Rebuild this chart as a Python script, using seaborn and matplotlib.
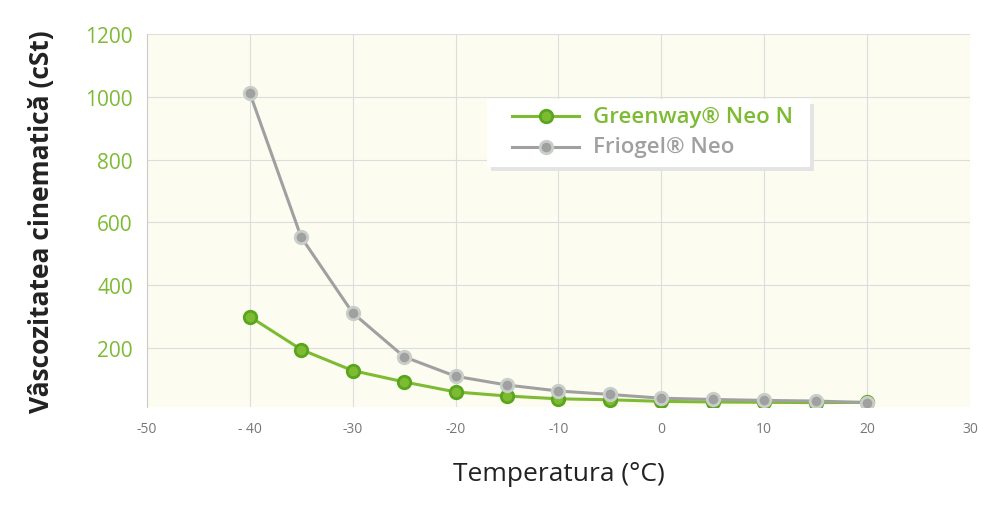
import seaborn as sns
import matplotlib.pyplot as plt
import pandas as pd
from matplotlib.patches import FancyBboxPatch

temps = [-40, -35, -30, -25, -20, -15, -10, -5, 0, 5, 10, 15, 20]
greenway = [300, 195, 128, 92, 60, 47, 38, 35, 30, 28, 27, 26, 27]
friogel = [1013, 553, 312, 172, 110, 82, 63, 52, 40, 36, 33, 31, 26]
x_ticks = [-50, -40, -30, -20, -10, 0, 10, 20, 30]
x_labels = ["-50", "- 40", "-30", "-20", "-10", "0", "10", "20", "30"]
y_ticks = [200, 400, 600, 800, 1000, 1200]

green = "#7dbb33"
gray = "#a0a0a0"

df = pd.DataFrame({"t": temps * 2, "v": greenway + friogel,
                   "s": ["Greenway® Neo N"] * len(temps) + ["Friogel® Neo"] * len(temps)})

plt.rcParams["font.family"] = "Open Sans"
fig = plt.figure(figsize=(9.99, 5.10), dpi=100)
ax = fig.add_axes([0.147, 0.2, 0.824, 0.731])
ax.set_facecolor("#fdfcf1")

sns.lineplot(data=df, x="t", y="v", hue="s", palette=[green, gray], ax=ax,
             marker="o", markersize=9, markeredgewidth=2, linewidth=2.2, legend=False)
for line, c in zip(ax.lines, ["#5aa51e", "#c8cfc8"]):
    line.set_markeredgecolor(c)

ax.set_xlim(-50, 30)
ax.set_ylim(12, 1200)
ax.set_xticks(x_ticks)
ax.set_xticklabels(x_labels, color="#777777", fontsize=10)
ax.set_yticks(y_ticks)
ax.set_yticklabels([str(v) for v in y_ticks], color=green, fontsize=15)
ax.grid(True, color="#dddddd", linewidth=0.8)
ax.set_axisbelow(True)
ax.tick_params(length=0, pad=10)
for sp in ax.spines.values():
    sp.set_visible(False)
ax.spines["left"].set_visible(True)
ax.spines["left"].set_color("#cccccc")

ax.set_xlabel("Temperatura (°C)", fontsize=19, color="#222222", labelpad=18)
ax.set_ylabel("Vâscozitatea cinematică (cSt)", fontsize=19, color="#222222",
              fontweight="bold", labelpad=22)

# legend box
shadow = FancyBboxPatch((0.491, 0.662), 0.324, 0.133, transform=fig.transFigure,
                        boxstyle="square,pad=0", facecolor="#e4e4e4", edgecolor="none")
box = FancyBboxPatch((0.487, 0.67), 0.324, 0.133, transform=fig.transFigure,
                     boxstyle="square,pad=0", facecolor="white", edgecolor="none")
fig.patches.extend([shadow, box])
for yy, c, ec, txt in [(0.77, green, "#5aa51e", "Greenway® Neo N"),
                       (0.71, gray, "#c8cfc8", "Friogel® Neo")]:
    fig.lines.append(plt.Line2D([0.513, 0.58], [yy, yy], transform=fig.transFigure,
                                color=c, linewidth=2.2))
    fig.lines.append(plt.Line2D([0.547], [yy], transform=fig.transFigure, color=c,
                                marker="o", markersize=9, markeredgewidth=2,
                                markeredgecolor=ec, linestyle="none"))
    fig.text(0.594, yy, txt, color=c, fontsize=16, fontweight="semibold", va="center")

plt.savefig("out.png")
